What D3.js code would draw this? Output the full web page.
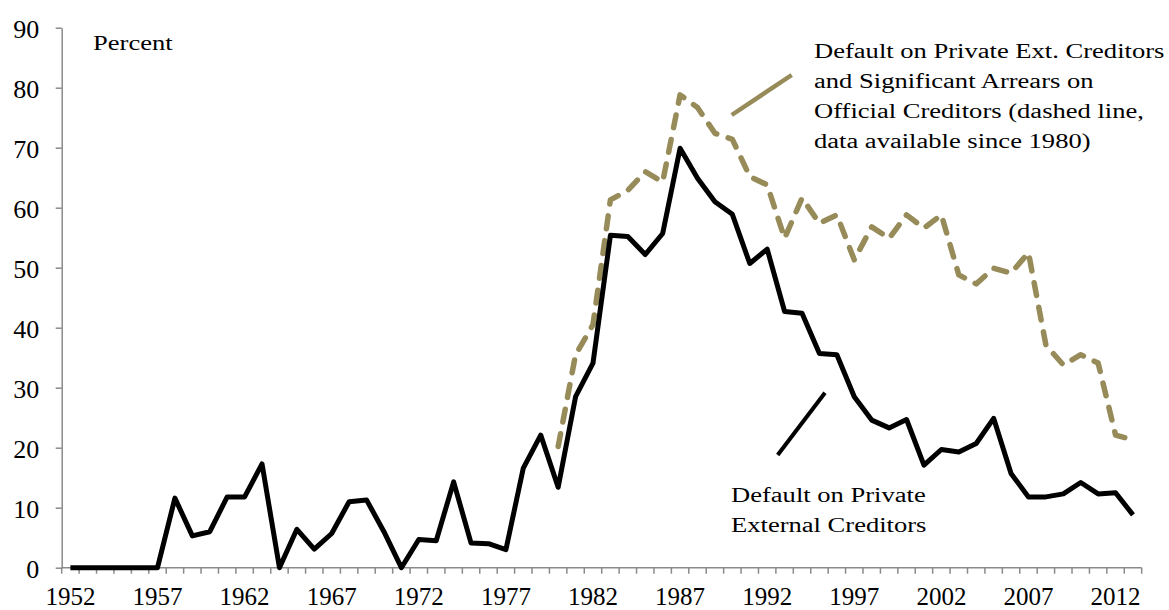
<!DOCTYPE html>
<html>
<head>
<meta charset="utf-8">
<script src="https://cdn.jsdelivr.net/npm/d3@7"></script>
<style>
body { margin: 0; background: #fff; }
</style>
</head>
<body>
<script>
// categories
var years = d3.range(1952, 2014);
var labelYears = [1952, 1957, 1962, 1967, 1972, 1977, 1982, 1987, 1992, 1997, 2002, 2007, 2012];
var yTicks = [0, 10, 20, 30, 40, 50, 60, 70, 80, 90];

// default on private external creditors, 1952-2013 (percent)
var privateDefault = [0, 0, 0, 0, 0, 0, 11.6, 5.3, 6.0, 11.8, 11.8, 17.3,
  0, 6.4, 3.1, 5.7, 11.0, 11.3, 6.0,
  0, 4.7, 4.5, 14.3, 4.1, 4.0, 3.0,
  16.6, 22.1, 13.4, 28.5, 34.1,
  55.4, 55.2, 52.2, 55.7, 69.9,
  64.9, 61.0, 58.9, 50.7, 53.1,
  42.7, 42.4, 35.7, 35.5, 28.5,
  24.6, 23.3, 24.7, 17.1, 19.7,
  19.3, 20.7, 24.9, 15.7, 11.8,
  11.8, 12.3, 14.2, 12.3, 12.5, 8.8];

// default incl. arrears on official creditors, 1980-2013
var arrearsYears = d3.range(1980, 2014);
var arrearsDefault = [20.2, 35.5, 40.5, 61.3, 62.9, 66.0, 64.3, 78.8,
  76.7, 72.4, 71.4, 65.2, 63.8, 54.9, 61.6, 57.4, 58.8, 51.3,
  56.8, 54.9, 58.8, 56.6, 58.8, 48.8, 47.3, 49.9, 49.1, 52.5,
  37.1, 33.8, 35.5, 34.1, 22.1, 21.3];

var W = 1169, H = 610;
var sx = 1.23; // annotation text in the original is stretched sideways
var font = "'Liberation Serif', 'Times New Roman', serif";
var olive = "#968b59";
var axisGrey = "#8a8a8a";

var svg = d3.select("body").append("svg")
    .attr("width", W)
    .attr("height", H);

var x = d3.scaleBand().domain(years).range([61.7, 1141.7]).padding(0);
var y = d3.scaleLinear().domain([0, 90]).range([567.7, 27.7]);
var cx = function(yr) { return x(yr) + x.bandwidth() / 2; };

// y axis
var yAxis = svg.append("g")
    .attr("transform", "translate(" + x.range()[0] + ",0)")
    .call(d3.axisLeft(y).tickValues(yTicks).tickSize(6).tickSizeOuter(0));
yAxis.select(".domain").attr("stroke", axisGrey).attr("stroke-width", 1.5);
yAxis.selectAll(".tick line").attr("stroke", axisGrey).attr("stroke-width", 1.5);
yAxis.selectAll(".tick text")
    .attr("x", -22.4)
    .attr("y", 1.5)
    .attr("fill", "#000")
    .style("font-family", font)
    .style("font-size", "26px");

// x axis: line, year ticks on category boundaries, labels every 5 years
var x0 = y(0);
svg.append("line")
    .attr("x1", x.range()[0]).attr("x2", x.range()[1])
    .attr("y1", x0).attr("y2", x0)
    .attr("stroke", axisGrey).attr("stroke-width", 1.5);

var bounds = years.map(function(d) { return x(d); }).concat([x.range()[1]]);
svg.selectAll(".xtick")
    .data(bounds)
    .enter()
    .append("line")
    .attr("class", "xtick")
    .attr("x1", function(d) { return d; })
    .attr("x2", function(d) { return d; })
    .attr("y1", x0)
    .attr("y2", x0 + 6)
    .attr("stroke", axisGrey)
    .attr("stroke-width", 1.5);

svg.selectAll(".xlabel")
    .data(labelYears)
    .enter()
    .append("text")
    .attr("class", "xlabel")
    .attr("x", function(d) { return cx(d); })
    .attr("y", x0 + 37)
    .attr("text-anchor", "middle")
    .style("font-family", font)
    .style("font-size", "25px")
    .text(function(d) { return d; });

// lines
var line = d3.line()
    .x(function(d) { return cx(d[0]); })
    .y(function(d) { return y(d[1]); });

svg.append("path")
    .datum(arrearsYears.map(function(d, i) { return [d, arrearsDefault[i]]; }))
    .attr("d", line)
    .attr("fill", "none")
    .attr("stroke", olive)
    .attr("stroke-width", 5.5)
    .attr("stroke-linecap", "round")
    .attr("stroke-linejoin", "round")
    .attr("stroke-dasharray", "13,12");

svg.append("path")
    .datum(years.map(function(d, i) { return [d, privateDefault[i]]; }))
    .attr("d", line)
    .attr("fill", "none")
    .attr("stroke", "#000")
    .attr("stroke-width", 5)
    .attr("stroke-linejoin", "round");

// annotations
function label(lines, x1, y1, gap) {
    var t = svg.append("g");
    lines.forEach(function(s, i) {
        t.append("text")
            .attr("transform", "translate(" + x1 + "," + (y1 + i * gap) + ") scale(" + sx + ",1)")
            .style("font-family", font)
            .style("font-size", "21.6px")
            .text(s);
    });
}

label(["Percent"], 93, 49.5, 0);
label(["Default on Private Ext. Creditors",
       "and Significant Arrears on",
       "Official Creditors (dashed line,",
       "data available since 1980)"], 814, 57.5, 30.3);
label(["Default on Private", "External Creditors"], 731, 501.5, 30.5);

svg.append("line")
    .attr("x1", 731.7).attr("y1", 115)
    .attr("x2", 791.7).attr("y2", 75)
    .attr("stroke", olive).attr("stroke-width", 4.5);

svg.append("line")
    .attr("x1", 777.7).attr("y1", 455)
    .attr("x2", 825).attr("y2", 392.7)
    .attr("stroke", "#000").attr("stroke-width", 4);
</script>
</body>
</html>
